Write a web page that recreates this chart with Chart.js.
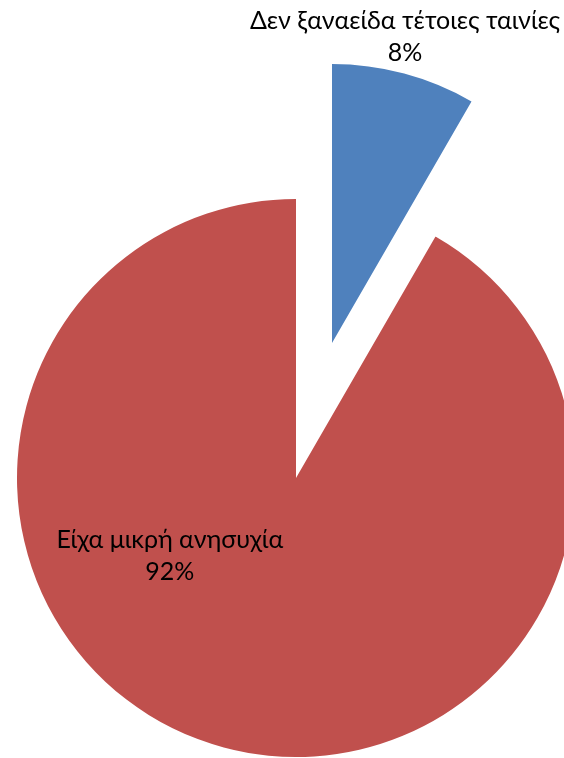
<!DOCTYPE html>
<html>
<head>
<meta charset="utf-8">
<script src="https://cdn.jsdelivr.net/npm/chart.js@4/dist/chart.umd.min.js"></script>
<style>
html, body { margin: 0; padding: 0; background: #fff; overflow: hidden; width: 564px; height: 758px; }
.wrap { position: absolute; left: 0; top: 0; }
#wrapA { width: 592px; height: 956px; }
#wrapB { width: 664px; height: 686px; }
</style>
</head>
<body>
<div class="wrap" id="wrapA"><canvas id="cA" width="592" height="956"></canvas></div>
<div class="wrap" id="wrapB"><canvas id="cB" width="664" height="686"></canvas></div>
<script>
const categories = ["Δεν ξαναείδα τέτοιες ταινίες", "Είχα μικρή ανησυχία"];
const values = [1, 11];
const percentLabels = ["8%", "92%"];
const colors = ["#4F81BD", "#C0504D"];
const NONE = 'rgba(0,0,0,0)';

// The exploded slice (index 0) is drawn by its own chart, whose centre is
// shifted outward along the slice's mid-angle; the rest of the pie is drawn by the main chart.
function labelPlugin(index, rel) {
  return {
    id: 'sliceLabel' + index,
    afterDatasetsDraw(chart) {
      const ctx = chart.ctx;
      const arc = chart.getDatasetMeta(0).data[index];
      const r = arc.outerRadius;
      const x = arc.x + rel[0] * r;
      const y = arc.y + rel[1] * r;
      ctx.save();
      ctx.font = '25px Lato';
      ctx.fillStyle = '#000';
      ctx.textAlign = 'center';
      ctx.textBaseline = 'middle';
      ctx.fillText(categories[index], x, y - 16);
      ctx.fillText(percentLabels[index], x, y + 16);
      ctx.restore();
    }
  };
}

function makePie(canvasId, shownIndex, rel) {
  return new Chart(document.getElementById(canvasId), {
    type: 'pie',
    data: {
      labels: categories,
      datasets: [{
        data: values,
        backgroundColor: colors.map((c, i) => i === shownIndex ? c : NONE),
        borderWidth: 0
      }]
    },
    options: {
      responsive: false,
      animation: false,
      radius: 279,
      layout: { padding: 0 },
      plugins: { legend: { display: false }, tooltip: { enabled: false } }
    },
    plugins: [labelPlugin(shownIndex, rel)]
  });
}

makePie('cA', 1, [-0.452, 0.278]);
makePie('cB', 0, [0.262, -1.097]);
</script>
</body>
</html>
